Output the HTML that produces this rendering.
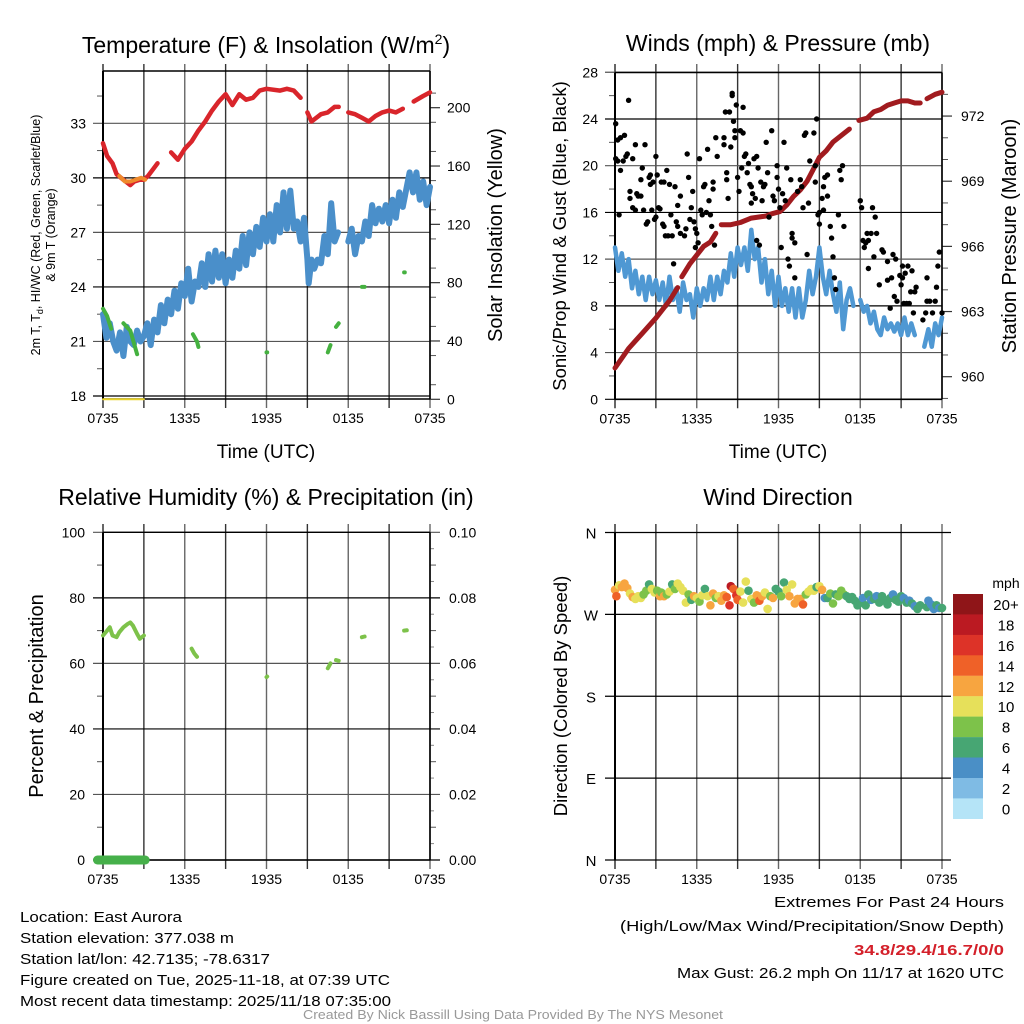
<!DOCTYPE html>
<html><head><meta charset="utf-8"><style>
html,body{margin:0;padding:0;background:#fff}
svg{display:block;font-family:"Liberation Sans",sans-serif}
</style></head><body>
<svg id="c" width="1024" height="1024" viewBox="0 0 1024 1024" xmlns="http://www.w3.org/2000/svg">
<rect width="1024" height="1024" fill="#fff"/>
<text x="266" y="53" font-size="23" text-anchor="middle">Temperature (F) &amp; Insolation (W/m<tspan dy="-9" font-size="14">2</tspan><tspan dy="9">)</tspan></text>
<text x="778" y="51" font-size="23" text-anchor="middle">Winds (mph) &amp; Pressure (mb)</text>
<text x="266" y="505" font-size="23" text-anchor="middle">Relative Humidity (%) &amp; Precipitation (in)</text>
<text x="778" y="505" font-size="23" text-anchor="middle">Wind Direction</text>
<text transform="translate(40,235) rotate(-90)" font-size="12.5" text-anchor="middle">2m T, T<tspan dy="3" font-size="9">d</tspan><tspan dy="-3">, HI/WC (Red, Green, Scarlet/Blue)</tspan></text>
<text transform="translate(55,235) rotate(-90)" font-size="12.5" text-anchor="middle">&amp; 9m T (Orange)</text>
<text transform="translate(502,235) rotate(-90)" font-size="20" text-anchor="middle">Solar Insolation (Yellow)</text>
<text transform="translate(566,236) rotate(-90)" font-size="18.5" text-anchor="middle">Sonic/Prop Wind &amp; Gust (Blue, Black)</text>
<text transform="translate(1016,236) rotate(-90)" font-size="20" text-anchor="middle">Station Pressure (Maroon)</text>
<text transform="translate(43,696) rotate(-90)" font-size="20" text-anchor="middle">Percent &amp; Precipitation</text>
<text transform="translate(567,696) rotate(-90)" font-size="18.5" text-anchor="middle">Direction (Colored By Speed)</text>
<text x="266" y="458" font-size="19" text-anchor="middle">Time (UTC)</text>
<text x="778" y="458" font-size="19" text-anchor="middle">Time (UTC)</text>
<g font-size="15">
<text x="20" y="922" textLength="162" lengthAdjust="spacingAndGlyphs">Location: East Aurora</text>
<text x="20" y="943" textLength="214" lengthAdjust="spacingAndGlyphs">Station elevation: 377.038 m</text>
<text x="20" y="964" textLength="250" lengthAdjust="spacingAndGlyphs">Station lat/lon: 42.7135; -78.6317</text>
<text x="20" y="985" textLength="370" lengthAdjust="spacingAndGlyphs">Figure created on Tue, 2025-11-18, at 07:39 UTC</text>
<text x="20" y="1006" textLength="371" lengthAdjust="spacingAndGlyphs">Most recent data timestamp: 2025/11/18 07:35:00</text>
<text x="1004" y="907" text-anchor="end" textLength="230" lengthAdjust="spacingAndGlyphs">Extremes For Past 24 Hours</text>
<text x="1004" y="931" text-anchor="end" textLength="384" lengthAdjust="spacingAndGlyphs">(High/Low/Max Wind/Precipitation/Snow Depth)</text>
<text x="1004" y="955" text-anchor="end" font-weight="bold" fill="#d4202a" textLength="150" lengthAdjust="spacingAndGlyphs">34.8/29.4/16.7/0/0</text>
<text x="1004" y="978" text-anchor="end" textLength="327" lengthAdjust="spacingAndGlyphs">Max Gust: 26.2 mph On 11/17 at 1620 UTC</text>
<text x="513" y="1019" text-anchor="middle" font-size="12.5" fill="#999" textLength="420" lengthAdjust="spacingAndGlyphs">Created By Nick Bassill Using Data Provided By The NYS Mesonet</text>
</g>
</svg>
<script>
// ---- data ----
const timeTicks = ["0735","1335","1935","0135","0735"];
const tempTicks = [18,21,24,27,30,33];
const insolTicks = [0,40,80,120,160,200];
const windTicks = [0,4,8,12,16,20,24,28];
const presTicks = [960,963,966,969,972];
const rhTicks = [0,20,40,60,80,100];
const precipTicks = ["0.00","0.02","0.04","0.06","0.08","0.10"];
const dirTicks = ["N","E","S","W","N"];
const speedBins = ["0","2","4","6","8","10","12","14","16","18","20+"];
const speedColors = ["#b5e4f7","#7fbbe4","#4a8fc6","#47a673","#7dc24a","#e6e05a","#f7a540","#ef6128","#dd3328","#bb1a22","#8f1518"];

const tempT = [0,0.3,0.7,1,1.5,2,2.3,2.7,3,3.3,3.7,4,null,5,5.5,6,6.5,7,7.5,8,8.5,9,9.5,10,10.5,11,11.5,12,13,13.5,14,14.5,null,15,15.3,16,16.5,17,17.3,null,18,18.5,19,19.5,20,20.5,21,21.5,22,null,22.8,23.5,24];
const tempV = [31.9,31.2,30.8,30.2,29.9,29.6,29.8,29.9,29.9,30.1,30.5,30.8,null,31.4,31.0,31.6,32.0,32.6,33.1,33.7,34.2,34.6,34.0,34.6,34.3,34.4,34.8,34.9,34.8,34.9,34.8,34.4,null,33.6,33.1,33.5,33.6,33.9,33.9,null,33.6,33.5,33.3,33.1,33.4,33.6,33.7,33.6,33.8,null,34.2,34.5,34.7];
const temp9mT = [1.2,1.6,2,2.4,2.8,3.1];
const temp9mV = [30.1,29.8,29.8,29.9,30.0,29.9];
const dewT = [0,0.25,0.5,0.75,1,1.25,1.5,1.75,2,2.25,2.5,2.75,3,3.25,3.5,3.75,4,4.25,4.5,4.75,5,5.25,5.5,5.75,6,6.25,6.5,6.75,7,7.25,7.5,7.75,8,8.25,8.5,8.75,9,9.25,9.5,9.75,10,10.25,10.5,10.75,11,11.25,11.5,11.75,12,12.25,12.5,12.75,13,13.25,13.5,13.75,14,14.25,14.5,14.75,15,15.1,15.3,15.5,15.75,16,16.25,16.5,16.75,17,17.25,null,18,18.25,18.5,18.75,19,19.25,19.5,19.75,20,20.25,20.5,20.75,21,21.25,21.5,21.75,22,22.5,22.75,23,23.25,23.5,23.75,24];
const dewV = [22.5,21.2,22,21,20.5,21.5,20.2,21.8,21,20.8,21.6,21,21.3,22,20.8,22.2,21.5,23,22,23.3,22.5,23.8,22.8,24.2,23.5,25,23.2,24.3,24,25.3,24,25.8,24.3,26,24.5,25.8,24.2,25.5,24.5,26,25,26.8,25.2,27,25.8,27.3,26.2,27.8,26.5,28,26.5,28.5,27,29.2,27.2,29.3,27.2,27.6,26.5,27.8,25.5,24.2,25.5,25,25.5,25.3,26.8,25.8,28.6,26.5,27,null,26.5,27.2,25.8,26.8,26.5,27.6,26.8,28.5,27.5,28.3,27.6,28.5,27.5,28.8,27.8,29.2,28.4,30.3,29.2,30.3,28.8,29.8,28.5,29.5];
const hiT = [0,0.3,0.6,null,1.5,2,2.5,null,6.6,6.9,7.0,null,12,12.05,null,16.5,16.7,null,17.1,17.3,null,19,19.2,null,22.1,22.15];
const hiV = [22.8,22.4,21.7,null,22,21.6,20.3,null,21.4,21,20.7,null,20.4,20.4,null,20.4,20.8,null,21.8,22,null,24,24,null,24.8,24.8];
const insolT = [0,3];
const insolV = [0,0];

const windT = [0,0.25,0.5,0.75,1,1.25,1.5,1.75,2,2.25,2.5,2.75,3,3.25,3.5,3.75,4,4.25,4.5,4.75,5,5.25,5.5,5.75,6,6.25,6.5,6.75,7,7.25,7.5,7.75,8,8.25,8.5,8.75,9,9.25,9.5,9.75,10,10.25,10.5,10.75,11,11.25,11.5,11.75,12,12.25,12.5,12.75,13,13.25,13.5,13.75,14,14.25,14.5,14.75,15,15.25,15.5,15.75,16,16.25,16.5,16.75,17,17.25,17.5,null,18,18.25,18.5,18.75,19,19.25,19.5,19.75,20,20.25,20.5,20.75,21,21.25,21.5,21.75,22,null,22.7,23,23.25,23.5,23.75,24];
const windV = [13,11,12.5,10.5,12,9.5,11,9,10.5,8.5,10.5,9,10.2,8.5,10,8,10.5,8.5,9.5,7.5,10,8.5,9,7,9.5,8,9.5,8.5,10.5,8.5,10.5,9,11,10,12.5,10.5,13,11.5,13,11,14.5,12,13,10,12,9,11,8,10.5,8,9.5,7.5,9.5,7,9.5,7,8.5,11,9,10.5,13,10.5,9,11,9,7.5,10,6,8.5,9.5,8,null,8.5,7.5,8,6.5,7.5,6,5.5,7,6,6.5,5.8,6.5,5.5,7,5.5,6.5,5.5,null,4.5,6,4.5,6.5,5.5,7];
const gustT = [0.05,0.05,0.2,0.2,0.4,0.4,0.3,0.6,0.7,0.8,0.9,1,1.1,1.1,1.3,1.3,1.5,1.5,1.6,1.7,1.9,1.9,2,2.1,2.2,2.3,2.4,2.5,2.6,2.6,2.8,2.7,2.9,3,3,3.1,3.3,3.2,3.4,3.5,3.6,3.6,3.7,3.8,3.9,4,4.1,4.2,4.3,4.4,4.5,4.6,4.6,4.8,4.8,5.1,5.2,5.3,5.4,5.5,5.6,5.7,5.8,5.9,5.9,6,6.1,6.2,6.3,6.4,6.5,6.6,6.7,6.8,6.9,7,7.1,7.2,7.2,7.3,7.4,7.5,8,8,8.1,8.2,8.2,8.3,8.4,8.5,8.6,8.6,8.7,8.8,8.8,8.9,9,9.1,9.2,9.3,9.4,9.4,9.5,9.6,9.7,9.8,9.9,10,10,10.1,10.2,10.3,10.4,10.4,10.5,10.6,10.7,10.8,10.9,11,11.1,11.2,11.3,11.5,11.6,11.7,11.9,11.9,12,12.1,12.2,12.3,12.4,12.5,12.6,12.7,12.8,12.9,13,13,13.2,13.2,13.4,13.6,13.7,13.8,13.9,14,14.1,14.2,14.3,14.6,14.7,14.7,14.8,14.9,15,15,15.2,15.3,15.3,15.4,15.6,15.6,15.8,15.9,16,16.1,16.2,16.4,16.5,16.6,16.7,16.8,18,18.1,18.2,18.3,18.4,18.5,18.6,18.6,18.8,18.9,19,19.1,19.2,19.4,19.6,19.7,20,20,20.2,20.3,20.4,20.5,20.6,20.7,20.9,21,21.1,21.1,21.2,21.3,21.4,21.5,21.6,21.7,21.8,21.9,22,22.1,22.6,22.8,22.9,22.9,23.1,23.3,23.5,23.6,23.7,23.8,24];
const gustV = [23.6,20.6,20.4,22.2,22.4,19.6,15.8,20.4,22.6,20.8,21,25.6,17.8,17.2,16.4,20.6,21.8,16.2,17.6,17.4,17.4,18.8,19.8,16.2,21.8,15,15.2,19,19.2,18.4,18.6,16.2,15.4,15.6,20.8,19.2,16.3,16.4,18.6,15,14.8,18.6,14,19.6,14,18.4,15.8,14,11.6,18.2,15.2,16.6,14.8,14.2,17.4,14,14.6,21,19,15.4,16.4,17.8,15.2,13,14.6,14.2,13.4,20.6,16.2,15.8,18.2,18.4,16,21.4,17,15.8,14.8,18.6,18,13.2,22.4,20.8,21.8,22.4,24.6,19.4,18.8,17.2,24.6,21.6,26,26.2,23.8,22.4,23,25.2,19,17.8,23,19.8,25,22.8,20.8,21,19.4,20.2,18.4,16.8,18.2,17.6,20.6,17.2,20.8,13.6,19.8,13.2,18.6,17,18.2,18.4,22,19.4,15.6,23,17.4,17,20,19,18,16.4,13,17.6,22,17,19.8,12,11.4,18.8,14.2,13.8,13.4,10.4,17.8,18.8,18.2,16.4,22.6,22.8,12.4,16.8,20.4,22.8,18.6,20,24,15.8,16,15,17.2,18.2,16.2,19,19.2,17.4,14.8,13.8,12.2,10.4,9.4,15.8,19.6,18.8,20,14.8,17,16.4,13.6,13,13.4,14.2,11.2,13.6,14.2,16.4,12.2,15.6,14.2,9.8,12.8,12.6,10.2,11.8,7.8,10.4,12.4,8.8,12,8.4,10.6,9.8,10.4,11.4,8.2,10.8,8.2,11.4,8.2,9.2,11,7.4,9.2,9.6,6.8,7.4,10.4,8.4,8.4,7.4,8.4,9.6,11.4,12.6,7.4];
const presT = [0,1,2,3,4,4.6,null,4.9,5.5,6,6.5,7,7.4,null,7.8,8.5,9.2,10,11.1,11.5,12.1,12.6,13.1,13.6,14.1,14.6,15,15.5,16,16.6,17.2,null,17.9,18.5,19,19.5,20,20.5,21,21.5,22,22.4,null,22.9,23.5,24];
const presV = [960.4,961.3,962.0,962.7,963.5,964.1,null,964.6,965.2,965.6,966.0,966.2,966.6,null,967.0,967.0,967.1,967.3,967.4,967.5,967.6,967.9,968.3,968.6,969.0,969.6,970.1,970.4,970.8,971.1,971.4,null,971.8,971.9,972.2,972.3,972.5,972.6,972.7,972.7,972.6,972.6,null,972.8,973.0,973.1];

const rhT = [0,0.3,0.5,0.7,1,1.2,1.5,1.8,2,2.2,2.5,2.7,3,null,6.5,6.7,6.9,null,12,12.05,null,16.5,16.7,null,17.1,17.3,null,19,19.2,null,22.1,22.3];
const rhV = [68.5,70,71,68.5,68,69.5,71,72,72.5,71.5,69,67.5,68.5,null,64.5,63,62,null,55.8,56,null,58.5,60,null,61,60.8,null,68,68.2,null,70,70.1];
const precipT = [-0.4,3.1];
const precipV = [0,0];

const dirT = [0,0.1,0.3,0.5,0.7,0.9,1.1,1.3,1.5,1.7,1.9,2.1,2.3,2.5,2.7,2.9,3.1,3.3,3.4,3.6,3.8,4,4.2,4.4,4.6,4.8,5,5.2,5.4,5.6,5.8,6,6.2,6.4,6.6,6.8,7,7.2,7.4,7.6,7.8,8,8.2,8.4,8.5,8.7,8.9,9,9.2,9.4,9.6,9.8,10,10.2,10.4,10.6,10.8,11,11.2,11.4,11.6,11.8,12,12.2,12.4,12.6,12.8,13,13.2,13.4,13.6,13.8,14,14.2,14.4,14.6,14.8,15,15.2,15.4,15.6,15.8,16,16.2,16.4,16.6,16.8,17,17.2,17.4,17.6,17.8,18,18.2,18.4,18.6,18.8,19,19.2,19.4,19.6,19.8,20,20.2,20.4,20.6,20.8,21,21.2,21.4,21.6,21.8,22,22.2,22.4,22.9,23,23.2,23.4,23.6,23.8,24];
const dirV = [297,290,302,300,304,299,293,289,287,290,288,292,296,303,298,294,296,290,294,290,292,295,303,298,304,300,296,283,292,286,290,288,284,291,298,290,280,293,288,290,285,291,289,280,301,298,291,286,295,283,306,296,287,283,291,285,290,294,276,290,288,298,295,290,305,297,290,303,282,287,287,281,292,295,298,296,300,301,297,288,288,293,282,292,290,296,292,290,287,289,285,280,283,288,280,292,286,287,290,283,290,285,281,288,292,286,284,290,288,283,285,282,279,276,280,278,285,281,276,280,277,277];
const dirSpd = [12,15,11,13,12,13,11,13,10,10,10,9,8,7,10,10,8,12,9,12,8,10,7,8,10,10,11,10,8,7,12,10,9,11,6,10,12,12,9,10,12,12,15,17,19,15,16,14,10,11,10,7,10,8,12,14,12,10,10,9,12,6,7,8,6,10,12,10,12,13,13,15,9,10,10,10,6,10,12,4,7,8,8,7,8,8,9,7,6,6,7,6,6,4,6,6,4,6,4,6,6,6,7,6,4,6,6,6,4,6,4,6,4,6,6,7,4,4,4,6,4,6,6];

// ---- drawing ----
const svg = document.getElementById('c');
const NS = 'http://www.w3.org/2000/svg';
function mk(tag, name, parent) {
  const el = document.createElementNS(NS, tag);
  
  
  (parent || svg).appendChild(el);
  return el;
}
function setA(el, o) { for (const k in o) el.setAttribute(k, o[k]); return el; }
function line(p, name, x1, y1, x2, y2, stroke, w) {
  return setA(mk('line', name, p), {x1, y1, x2, y2, stroke, 'stroke-width': w});
}
function txt(p, name, x, y, s, anchor, size) {
  const t = setA(mk('text', name, p), {x, y, 'text-anchor': anchor, 'font-size': size || 14});
  t.textContent = s; return t;
}
function poly(p, name, T, V, sx, sy, color, w) {
  let d = '', pen = false;
  for (let i = 0; i < T.length; i++) {
    if (T[i] === null || V[i] === null) { pen = false; continue; }
    d += (pen ? 'L' : 'M') + sx(T[i]).toFixed(1) + ' ' + sy(V[i]).toFixed(1);
    pen = true;
  }
  return setA(mk('path', name, p), {d, fill: 'none', stroke: color, 'stroke-width': w, 'stroke-linecap': 'round', 'stroke-linejoin': 'round'});
}

function panel(id, x0, x1, yT, yB, vTop) {
  const g = mk('g', id + '-axes');
  const sx = t => x0 + t / 24 * (x1 - x0);
  for (let i = 0; i <= 8; i++) {
    const x = sx(i * 3);
    line(g, 'x-gridline', x, vTop, x, yB + 9, i % 2 ? '#333' : '#666', i === 0 ? 2 : 1.4);
  }
  timeTicks.forEach((s, i) => txt(g, 'x-tick-label', sx(i * 6), yB + 24, s, 'middle', 14));
  return {g, sx};
}
function frame(g, x0, x1, yT, yB) {
  line(g, 'frame-left', x0, yT, x0, yB, '#000', 2);
  line(g, 'frame-right', x1, yT, x1, yB, '#000', 1.6);
  line(g, 'frame-top', x0, yT, x1, yT, '#000', 1.4);
  line(g, 'frame-bottom', x0, yB, x1, yB, '#000', 1.6);
}

// Panel 1: temperature
{
  const x0 = 103, x1 = 430, yT = 71, yB = 399;
  const {g, sx} = panel('temp', x0, x1, yT, yB, 64);
  const yL = v => 396 - (v - 18) * 18.18;
  const yR = v => 399.3 - v * 1.458;
  insolTicks.forEach(v => { line(g, 'insol-tick', x1, yR(v), x1 + 10, yR(v), '#333', 1.2); txt(g, 'insol-tick-label', x1 + 17, yR(v) + 5, String(v), 'start', 14); });
  for (let v = 10; v <= 220; v += 20) if (v % 40) line(g, 'insol-minor-tick', x1, yR(v), x1 + 6, yR(v), '#555', 1);
  tempTicks.forEach((v, i) => { line(g, 'temp-gridline', x0 - 10, yL(v), x1, yL(v), i % 2 ? '#555' : '#000', 1.2); txt(g, 'temp-tick-label', x0 - 17, yL(v) + 5, String(v), 'end', 14); });
  for (let v = 19.5; v < 36; v += 3) line(g, 'temp-minor-tick', x0 - 6, yL(v), x0, yL(v), '#555', 1);
  frame(g, x0, x1, yT, yB);
  poly(g, 'insolation-line', insolT, insolV, sx, yR, '#e8d22a', 2);
  poly(g, 'temp-line', tempT, tempV, sx, yL, '#d9252b', 4.5);
  poly(g, 'temp-9m-line', temp9mT, temp9mV, sx, yL, '#ef8a2c', 4);
  poly(g, 'dewpoint-line', dewT, dewV, sx, yL, '#4a8fca', 6);
  poly(g, 'heat-index-line', hiT, hiV, sx, yL, '#45b140', 4);
}
// Panel 2: winds
{
  const x0 = 615, x1 = 942, yT = 72.5, yB = 399.3;
  const {g, sx} = panel('wind', x0, x1, yT, yB, 64);
  const yL = v => 399.3 - v * 11.68;
  const yR = p => 376.7 - (p - 960) * 21.72;
  presTicks.forEach(v => { line(g, 'pressure-tick', x1, yR(v), x1 + 10, yR(v), '#333', 1.2); txt(g, 'pressure-tick-label', x1 + 19, yR(v) + 5, String(v), 'start', 14); });
  for (let v = 959; v <= 973; v++) if ((v - 960) % 3) line(g, 'pressure-minor-tick', x1, yR(v), x1 + 6, yR(v), '#555', 1);
  windTicks.forEach((v, i) => { line(g, 'wind-gridline', x0 - 10, yL(v), x1, yL(v), i % 2 ? '#555' : '#000', 1.2); txt(g, 'wind-tick-label', x0 - 17, yL(v) + 5, String(v), 'end', 14); });
  for (let v = 2; v < 28; v += 4) line(g, 'wind-minor-tick', x0 - 6, yL(v), x0, yL(v), '#555', 1);
  frame(g, x0, x1, yT, yB);
  poly(g, 'wind-speed-line', windT, windV, sx, yL, '#4f98d3', 4.5);
  poly(g, 'pressure-line', presT, presV, sx, yR, '#a11b1f', 5);
  for (let i = 0; i < gustT.length; i++) {
    const c = mk('circle', 'gust-point', g);
    setA(c, {cx: sx(gustT[i]).toFixed(1), cy: yL(gustV[i]).toFixed(1), r: 2.7, fill: '#000'});
  }
}
// Panel 3: RH
{
  const x0 = 103, x1 = 430, yT = 532.3, yB = 860;
  const {g, sx} = panel('rh', x0, x1, yT, yB, 524);
  const yL = v => 860 - v * 3.277;
  rhTicks.forEach((v, i) => {
    line(g, 'rh-gridline', x0 - 10, yL(v), x1 + 10, yL(v), i % 2 ? '#555' : '#000', 1.2);
    txt(g, 'rh-tick-label', x0 - 18, yL(v) + 5, String(v), 'end', 14);
    txt(g, 'precip-tick-label', x1 + 19, yL(v) + 5, precipTicks[i], 'start', 14);
  });
  for (let v = 10; v < 100; v += 20) { line(g, 'rh-minor-tick', x0 - 6, yL(v), x0, yL(v), '#555', 1); line(g, 'precip-minor-tick', x1, yL(v), x1 + 6, yL(v), '#555', 1); }
  for (let v = 5; v < 100; v += 10) line(g, 'precip-minor-tick', x1, yL(v), x1 + 4, yL(v), '#888', 1);
  frame(g, x0, x1, yT, yB);
  poly(g, 'precip-line', precipT, precipV, sx, yL, '#46b04a', 9);
  poly(g, 'rh-line', rhT, rhV, sx, yL, '#7dc24a', 4);
}
// Panel 4: wind direction
{
  const x0 = 615, x1 = 942, yT = 532.3, yB = 860;
  const {g, sx} = panel('dir', x0, x1, yT, yB, 524);
  const yD = d => 860 - d * 0.9097;
  dirTicks.forEach((s, i) => { line(g, 'dir-gridline', x0 - 10, yD(i * 90), x1 + 9, yD(i * 90), '#000', 1.2); txt(g, 'dir-tick-label', x0 - 24, yD(i * 90) + 6, s, 'middle', 15); });
  line(g, 'frame-left', x0, yT, x0, yB, '#000', 2);
  for (let i = 0; i < dirT.length; i++) {
    const b = Math.min(10, Math.floor(dirSpd[i] / 2));
    const c = mk('circle', 'wind-dir-point', g);
    setA(c, {cx: sx(dirT[i]).toFixed(1), cy: yD(dirV[i]).toFixed(1), r: 4.3, fill: speedColors[b]});
  }
  const lg = mk('g', 'speed-colorbar');
  txt(lg, 'colorbar-title', 1006, 588, 'mph', 'middle', 14);
  for (let i = 0; i < speedBins.length; i++) {
    const k = speedBins.length - 1 - i;
    const y = 594 + i * 20.44;
    setA(mk('rect', 'colorbar-swatch', lg), {x: 953, y: y.toFixed(1), width: 30, height: 20.6, fill: speedColors[k]});
    txt(lg, 'colorbar-label', 1006, y + 16, speedBins[k], 'middle', 15);
  }
}
</script>
</body></html>
